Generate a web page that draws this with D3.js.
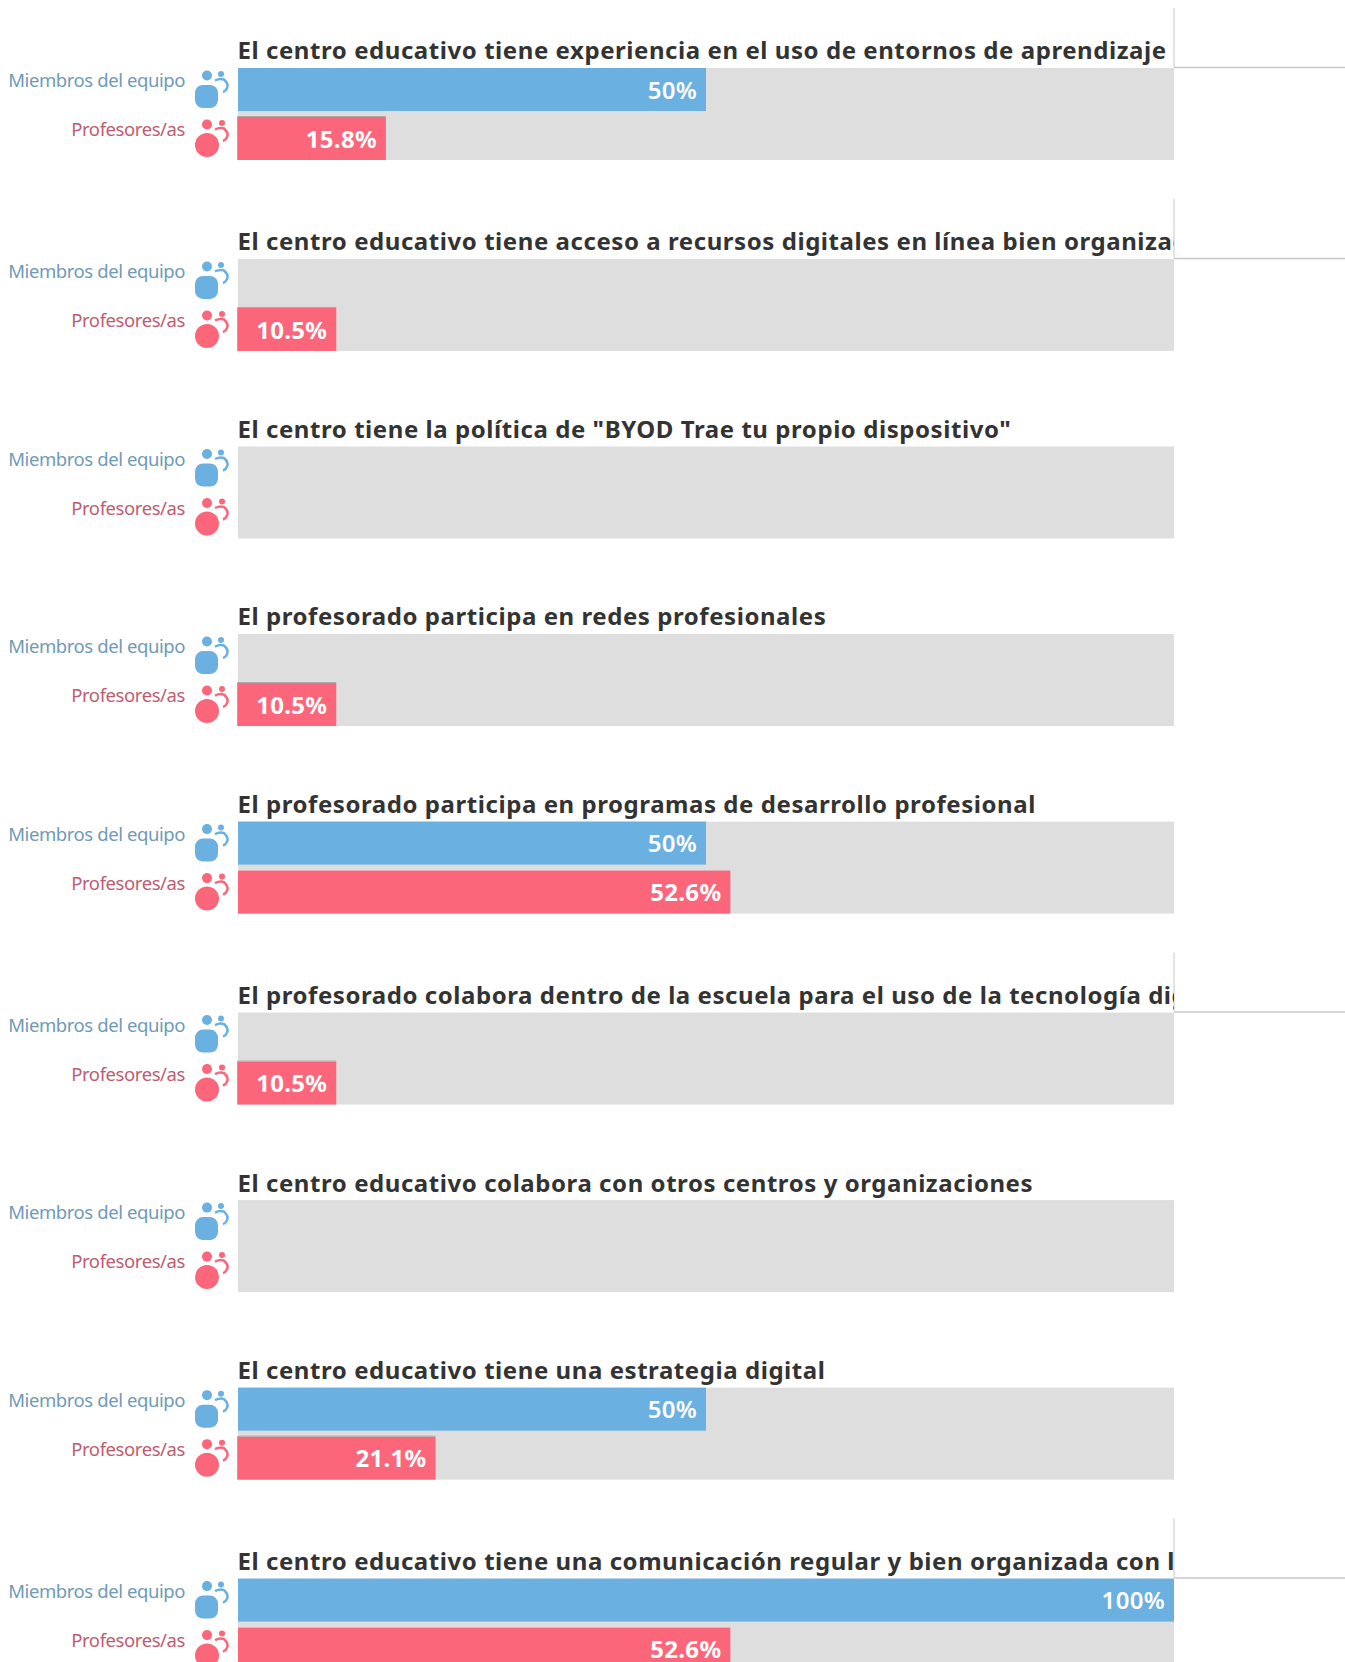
<!DOCTYPE html>
<html>
<head>
<meta charset="utf-8">
<script src="https://cdn.jsdelivr.net/npm/d3@7"></script>
<style>
  html, body { margin: 0; padding: 0; background: #fff; overflow: hidden; }
  text { font-family: "Noto Sans", sans-serif; }
</style>
</head>
<body>
<div id="container"></div>
<script>
// values
let titles = [
  "El centro educativo tiene experiencia en el uso de entornos de aprendizaje",
  "El centro educativo tiene acceso a recursos digitales en línea bien organizados",
  "El centro tiene la política de \"BYOD Trae tu propio dispositivo\"",
  "El profesorado participa en redes profesionales",
  "El profesorado participa en programas de desarrollo profesional",
  "El profesorado colabora dentro de la escuela para el uso de la tecnología digital",
  "El centro educativo colabora con otros centros y organizaciones",
  "El centro educativo tiene una estrategia digital",
  "El centro educativo tiene una comunicación regular y bien organizada con las familias"
];
let equipo = [50, 0, 0, 0, 50, 0, 0, 50, 100];
let profesores = [15.8, 10.5, 0, 10.5, 52.6, 10.5, 0, 21.1, 52.6];
let groups = ["Miembros del equipo", "Profesores/as"];

let w = 1345;
let h = 1662;
let xLeft = 238;
let xRight = 1174;
let rowH = 92;
let pitch = 187.55;
let longExtra = 3.4;

let colors = ["#6ab0e0", "#fb667a"];
let labelColors = ["#6f9ab8", "#c05c70"];

let viz = d3.select("#container")
  .append("svg")
    .attr("width", w)
    .attr("height", h)
    .style("display", "block")
;

let xScale = d3.scaleLinear().domain([0, 100]).range([xLeft, xRight]);
let yBand = d3.scaleBand().domain(groups).range([0, rowH]).paddingInner(6 / 49);

viz.append("defs").append("clipPath")
    .attr("id", "titleclip")
  .append("rect")
    .attr("x", 0).attr("y", -60)
    .attr("width", xRight).attr("height", 60);

// titles that do not fit wrap in the original, so those rows sit a bit lower
// and get the grey corner lines on the right
let rowData = [];
let rowTop = 68;
titles.forEach(function(t, i){
  let isLong = i == 0 || i == 1 || i == 5 || i == 8;
  if(i > 0){
    rowTop = rowTop + pitch + (isLong ? longExtra : 0);
  }
  rowData.push({ title: t, top: rowTop, isLong: isLong, values: [equipo[i], profesores[i]] });
});

let rows = viz.selectAll(".row").data(rowData).enter()
  .append("g")
    .attr("class", "row")
    .attr("transform", function(d){ return "translate(0," + d.top + ")"; })
;

// grey track
rows.append("rect")
    .attr("x", xScale(0))
    .attr("y", 0)
    .attr("width", xScale(100) - xScale(0))
    .attr("height", rowH)
    .attr("fill", "#dedede")
;

// corner lines on long titles
let longRows = rows.filter(function(d){ return d.isLong; });
longRows.append("line")
    .attr("x1", xRight).attr("x2", xRight)
    .attr("y1", -60).attr("y2", -1)
    .attr("stroke", "#c8c8c8").attr("stroke-width", 1)
;
longRows.append("line")
    .attr("x1", xRight).attr("x2", w)
    .attr("y1", -0.5).attr("y2", -0.5)
    .attr("stroke", "#c8c8c8").attr("stroke-width", 1.5)
;

rows.append("text")
    .attr("x", xLeft - 0.5)
    .attr("y", -8.6)
    .attr("clip-path", "url(#titleclip)")
    .attr("fill", "#333333")
    .style("font-size", "24px")
    .style("font-weight", 700)
    .style("letter-spacing", "0.56px")
    .text(function(d){ return d.title; })
;

groups.forEach(function(g, k){
  let y0 = yBand(g);

  rows.append("text")
      .attr("x", 185)
      .attr("y", y0 + 19)
      .attr("text-anchor", "end")
      .attr("fill", labelColors[k])
      .style("font-size", "18.5px")
      .style("letter-spacing", "-0.42px")
      .text(g)
  ;

  // little people icon
  let icon = rows.append("g")
      .attr("transform", "translate(195," + y0 + ")")
      .attr("fill", colors[k])
  ;
  icon.append("circle").attr("cx", 12).attr("cy", 7.5).attr("r", 5);
  icon.append("circle").attr("cx", 26 + k).attr("cy", 6).attr("r", 3);
  if(k == 0){
    icon.append("rect")
        .attr("x", 0).attr("y", 17).attr("width", 23).attr("height", 23).attr("rx", 8);
  }else{
    icon.append("circle").attr("cx", 12).attr("cy", 28).attr("r", 12);
  }
  icon.append("path")
      .attr("d", "M20 12.5 Q25 10 29 11.5 Q34 16 32 20 Q31 23 28 24")
      .attr("fill", "none")
      .attr("stroke", colors[k])
      .attr("stroke-width", 2.5)
  ;

  // the bars, nothing drawn for zero
  let hasValue = rows.filter(function(d){ return d.values[k] > 0; });
  hasValue.append("rect")
      .attr("x", xScale(0))
      .attr("y", y0)
      .attr("width", function(d){ return xScale(d.values[k]) - xScale(0); })
      .attr("height", yBand.bandwidth())
      .attr("fill", colors[k])
  ;
  // short red bars show a thin grey edge on top and left in the reference
  hasValue.filter(function(d){ return k == 1 && d.values[k] < 50; }).append("path")
      .attr("d", function(d){
        return "M" + (xScale(0) - 0.5) + "," + (y0 + yBand.bandwidth())
          + "V" + (y0 - 0.5) + "H" + xScale(d.values[k]);
      })
      .attr("fill", "none")
      .attr("stroke", "#aaaaaa")
      .attr("stroke-width", 1)
  ;
  hasValue.append("text")
      .attr("x", function(d){ return xScale(d.values[k]) - 9; })
      .attr("y", y0 + 30.7)
      .attr("text-anchor", "end")
      .attr("fill", "#fff")
      .style("font-size", "24px")
      .style("font-weight", k == 0 ? 600 : 700)
      .style("letter-spacing", "0.3px")
      .text(function(d){ return d.values[k] + "%"; })
  ;
});
</script>
</body>
</html>
